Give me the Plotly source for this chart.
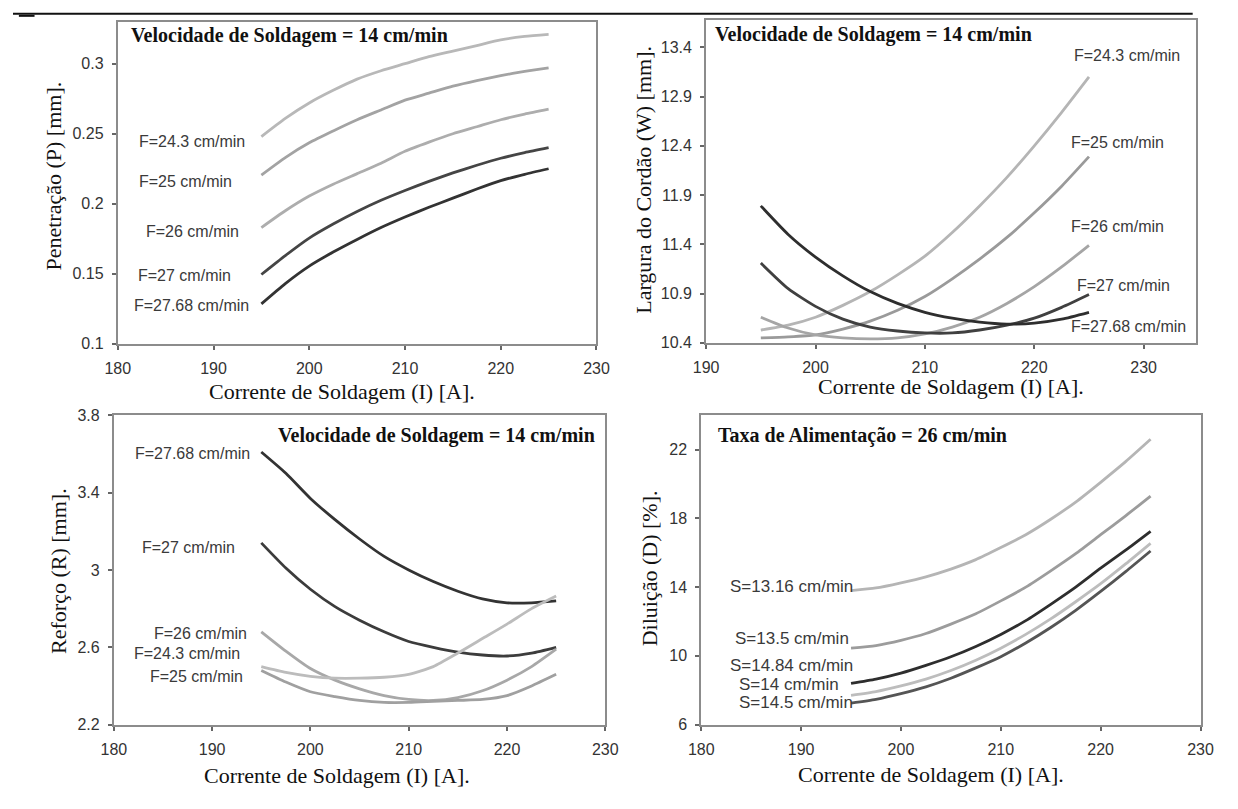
import plotly.graph_objects as go

W, H = 1238, 809

# ---------------- data ----------------
current = [195, 197.5, 200, 202.5, 205, 207.5, 210, 212.5, 215, 217.5, 220, 222.5, 225]

# Panel 1: Penetração (P)
pen_labels = ["F=24.3 cm/min", "F=25 cm/min", "F=26 cm/min", "F=27 cm/min", "F=27.68 cm/min"]
pen_24_3 = [0.248, 0.261, 0.272, 0.281, 0.289, 0.295, 0.300, 0.305, 0.309, 0.313, 0.317, 0.3195, 0.321]
pen_25 = [0.2205, 0.233, 0.2435, 0.252, 0.260, 0.267, 0.274, 0.279, 0.284, 0.288, 0.2915, 0.2945, 0.297]
pen_26 = [0.183, 0.195, 0.2055, 0.214, 0.2215, 0.229, 0.2375, 0.244, 0.250, 0.255, 0.260, 0.264, 0.2675]
pen_27 = [0.1495, 0.163, 0.1755, 0.1855, 0.1945, 0.2025, 0.2095, 0.216, 0.222, 0.2275, 0.2325, 0.2365, 0.240]
pen_27_68 = [0.1285, 0.143, 0.1555, 0.1655, 0.1745, 0.183, 0.1905, 0.1975, 0.204, 0.2105, 0.2165, 0.221, 0.225]

# Panel 2: Largura do Cordão (W)
lar_labels = ["F=24.3 cm/min", "F=25 cm/min", "F=26 cm/min", "F=27 cm/min", "F=27.68 cm/min"]
lar_24_3 = [10.53, 10.58, 10.66, 10.78, 10.92, 11.09, 11.28, 11.52, 11.79, 12.08, 12.40, 12.74, 13.10]
lar_25 = [10.45, 10.46, 10.48, 10.54, 10.62, 10.73, 10.87, 11.05, 11.25, 11.47, 11.72, 11.99, 12.29]
lar_26 = [10.66, 10.55, 10.48, 10.45, 10.44, 10.45, 10.49, 10.56, 10.66, 10.80, 10.97, 11.17, 11.39]
lar_27 = [11.21, 10.95, 10.77, 10.64, 10.56, 10.52, 10.50, 10.50, 10.53, 10.58, 10.65, 10.76, 10.89]
lar_27_68 = [11.79, 11.50, 11.27, 11.08, 10.92, 10.80, 10.71, 10.65, 10.61, 10.59, 10.60, 10.64, 10.71]

# Panel 3: Reforço (R)
ref_labels = ["F=27.68 cm/min", "F=27 cm/min", "F=26 cm/min", "F=24.3 cm/min", "F=25 cm/min"]
ref_27_68 = [3.61, 3.50, 3.37, 3.26, 3.16, 3.07, 3.00, 2.94, 2.89, 2.85, 2.83, 2.83, 2.84]
ref_27 = [3.14, 3.01, 2.90, 2.81, 2.74, 2.68, 2.63, 2.60, 2.575, 2.56, 2.555, 2.57, 2.60]
ref_26 = [2.68, 2.58, 2.49, 2.43, 2.385, 2.35, 2.33, 2.325, 2.34, 2.375, 2.43, 2.50, 2.59]
ref_24_3 = [2.50, 2.47, 2.45, 2.44, 2.44, 2.445, 2.46, 2.50, 2.57, 2.645, 2.72, 2.80, 2.865]
ref_25 = [2.48, 2.42, 2.37, 2.345, 2.325, 2.315, 2.315, 2.32, 2.325, 2.33, 2.35, 2.40, 2.46]

# Panel 4: Diluição (D)
dil_labels = ["S=13.16 cm/min", "S=13.5 cm/min", "S=14.84 cm/min", "S=14 cm/min", "S=14.5 cm/min"]
dil_13_16 = [13.8, 13.95, 14.25, 14.6, 15.05, 15.6, 16.3, 17.05, 17.95, 18.95, 20.1, 21.3, 22.6]
dil_13_5 = [10.45, 10.6, 10.9, 11.3, 11.85, 12.45, 13.2, 14.0, 14.95, 15.95, 17.05, 18.15, 19.3]
dil_14_84 = [8.4, 8.65, 9.0, 9.45, 9.95, 10.55, 11.25, 12.05, 13.0, 14.0, 15.1, 16.15, 17.25]
dil_14 = [7.7, 7.92, 8.25, 8.65, 9.15, 9.75, 10.45, 11.25, 12.15, 13.15, 14.2, 15.35, 16.55]
dil_14_5 = [7.25, 7.47, 7.8, 8.2, 8.7, 9.3, 9.95, 10.75, 11.65, 12.65, 13.75, 14.9, 16.1]

# tick labels
pen_ticks = [0.1, 0.15, 0.2, 0.25, 0.3]
pen_ticktext = ["0.1", "0.15", "0.2", "0.25", "0.3"]
lar_ticks = [10.4, 10.9, 11.4, 11.9, 12.4, 12.9, 13.4]
lar_ticktext = ["10.4", "10.9", "11.4", "11.9", "12.4", "12.9", "13.4"]
ref_ticks = [2.2, 2.6, 3.0, 3.4, 3.8]
ref_ticktext = ["2.2", "2.6", "3", "3.4", "3.8"]
dil_ticks = [6, 10, 14, 18, 22]
dil_ticktext = ["6", "10", "14", "18", "22"]
x_ticks_a = [180, 190, 200, 210, 220, 230]
x_ticks_b = [190, 200, 210, 220, 230]

# ---------------- figure ----------------
SANS = "Liberation Sans, Arial, sans-serif"
SERIF = "Liberation Serif, Times New Roman, serif"

def px(x):
    return x / W

def py(y):
    return 1 - y / H

fig = go.Figure()

def add_lines(series, colors, xa, ya):
    for ys, c in zip(series, colors):
        fig.add_trace(go.Scatter(x=current, y=ys, mode="lines",
                                 line=dict(color=c, width=2.8, shape="spline", smoothing=0.6),
                                 xaxis=xa, yaxis=ya, showlegend=False, hoverinfo="skip"))

add_lines([pen_24_3, pen_25, pen_26, pen_27, pen_27_68],
          ["#b8b8b8", "#a3a3a3", "#adadad", "#454545", "#333333"], "x", "y")
add_lines([lar_24_3, lar_25, lar_26, lar_27, lar_27_68],
          ["#b5b5b5", "#9a9a9a", "#a5a5a5", "#404040", "#2e2e2e"], "x2", "y2")
add_lines([ref_27_68, ref_27, ref_26, ref_24_3, ref_25],
          ["#333333", "#3c3c3c", "#a8a8a8", "#bcbcbc", "#a0a0a0"], "x3", "y3")
add_lines([dil_13_16, dil_13_5, dil_14_84, dil_14, dil_14_5],
          ["#b5b5b5", "#9c9c9c", "#2e2e2e", "#bdbdbd", "#555555"], "x4", "y4")

axis_common = dict(showline=True, mirror=True, linecolor="#8c8c8c", linewidth=2,
                   ticks="outside", ticklen=4, tickwidth=1.5, tickcolor="#666",
                   showgrid=False, zeroline=False, ticklabelstandoff=5,
                   tickfont=dict(family=SANS, size=16, color="#333"))

def dom_x(a, b):
    return [px(a), px(b)]

def dom_y(top, bottom):
    return [py(bottom), py(top)]

fig.update_layout(
    width=W, height=H, margin=dict(l=0, r=0, t=0, b=0),
    plot_bgcolor="white", paper_bgcolor="white", showlegend=False,
    xaxis=dict(domain=dom_x(107, 596), range=[180, 230], tickvals=x_ticks_a, anchor="y", **axis_common),
    yaxis=dict(domain=dom_y(14, 343), range=[0.1, 0.33], tickvals=pen_ticks, ticktext=pen_ticktext, anchor="x", **axis_common),
    xaxis2=dict(domain=dom_x(708, 1208), range=[190, 234.75], tickvals=x_ticks_b, anchor="y2", **axis_common),
    yaxis2=dict(domain=dom_y(12, 342), range=[10.4, 13.68], tickvals=lar_ticks, ticktext=lar_ticktext, anchor="x2", **axis_common),
    xaxis3=dict(domain=dom_x(103, 605), range=[180, 230], tickvals=x_ticks_a, anchor="y3", **axis_common),
    yaxis3=dict(domain=dom_y(416, 732), range=[2.2, 3.8], tickvals=ref_ticks, ticktext=ref_ticktext, anchor="x3", **axis_common),
    xaxis4=dict(domain=dom_x(703, 1213), range=[180, 230], tickvals=x_ticks_a, anchor="y4", **axis_common),
    yaxis4=dict(domain=dom_y(416, 732), range=[6, 24], tickvals=dil_ticks, ticktext=dil_ticktext, anchor="x4", **axis_common),
)

ann = []

def text(x, y, s, font, xanchor="center", yanchor="middle", angle=0):
    ann.append(dict(x=px(x), y=py(y), xref="paper", yref="paper", text=s, showarrow=False,
                    xanchor=xanchor, yanchor=yanchor, textangle=angle, font=font,
                    borderpad=0))

label_font = dict(family=SANS, size=16, color="#3a3a3a")
label_font_s = dict(family=SANS, size=17, color="#3a3a3a")
title_font = dict(family=SERIF, size=20, color="#111")
axis_font = dict(family=SERIF, size=22, color="#111")

# panel titles
text(120, 28, "<b>Velocidade de Soldagem = 14 cm/min</b>", title_font, xanchor="left")
text(716, 27, "<b>Velocidade de Soldagem = 14 cm/min</b>", title_font, xanchor="left")
text(270, 437, "<b>Velocidade de Soldagem = 14 cm/min</b>", title_font, xanchor="left")
text(719, 437, "<b>Taxa de Alimentação = 26 cm/min</b>", title_font, xanchor="left")

# axis titles
xt = "Corrente de Soldagem (I) [A]."
text(336, 392, xt, axis_font)
text(958, 387, xt, axis_font)
text(331, 784, xt, axis_font)
text(938, 783, xt, axis_font)
text(41, 172, "Penetração (P) [mm].", axis_font, angle=-90)
text(644, 175, "Largura do Cordão (W) [mm].", axis_font, angle=-90)
text(47, 575, "Reforço (R) [mm].", axis_font, angle=-90)
text(651, 572, "Diluição (D) [%].", axis_font, angle=-90)

# curve labels panel 1 (right aligned)
for s, y, xr in zip(pen_labels, [136, 177, 228, 273, 304], [238, 225, 232, 224, 242]):
    text(xr, y, s, label_font, xanchor="right")
# panel 2 (left aligned)
for s, y, xl in zip(lar_labels, [49, 137, 223, 283, 325], [1083, 1080, 1080, 1086, 1080]):
    text(xl, y, s, label_font, xanchor="left")
# panel 3
for s, y, xr in zip(ref_labels, [455, 551, 639, 659, 683], [243, 228, 240, 233, 236]):
    text(xr, y, s, label_font, xanchor="right")
# panel 4
for s, y, xr in zip(dil_labels, [591, 644, 672, 691, 709], [859, 855, 859, 845, 859]):
    text(xr, y, s, label_font_s, xanchor="right")

fig.update_layout(annotations=ann)

# page rule at top
fig.add_shape(type="line", xref="paper", yref="paper", x0=0, x1=px(1205), y0=py(6), y1=py(6),
              line=dict(color="#111", width=2))
fig.add_shape(type="line", xref="paper", yref="paper", x0=px(6), x1=px(22), y0=py(8), y1=py(8),
              line=dict(color="#111", width=2))

fig.write_html("out.html")
